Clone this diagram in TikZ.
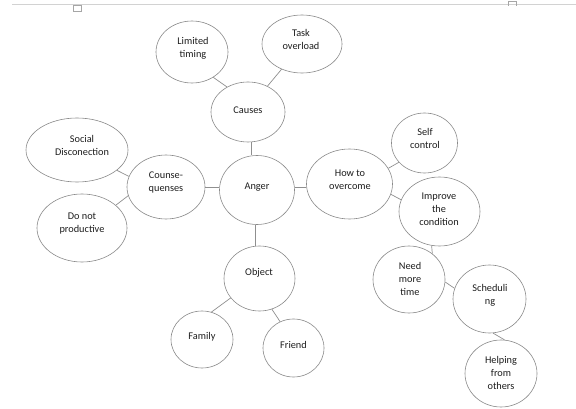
\documentclass[tikz,border=0pt]{standalone}
\usepackage{fontspec}
\setmainfont{Carlito}
\usetikzlibrary{shapes.geometric}
\definecolor{bubline}{HTML}{8A8A8A}
\definecolor{conline}{HTML}{8F8F8F}
\definecolor{txt}{HTML}{1E1E1E}
\definecolor{rule}{HTML}{D2D2D2}
\tikzset{
  bub/.style={ellipse, draw=bubline, line width=0.6pt, inner sep=0pt, fill=white},
  lbl/.style={align=center, text=txt, inner sep=0pt, font=\fontsize{10.3}{13}\selectfont},
  con/.style={draw=conline, line width=0.7pt},
}
\begin{document}
\begin{tikzpicture}[x=1pt,y=-1pt]
\useasboundingbox (0,0) rectangle (576,409);
% top rule and page marks
\coordinate (r1) at (12,4);
\coordinate (r2) at (576,4);
\draw[rule, line width=0.9pt] (r1) -- (r2);
\coordinate (m1) at (73,5);
\coordinate (m2) at (81,11);
\draw[gray!70, line width=0.6pt] (m1) rectangle (m2);
\coordinate (m3) at (508,1);
\coordinate (m4) at (516,6);
\draw[gray!70, line width=0.6pt] (m3 |- m4) -- (m3) -- (m4 |- m3) -- (m4);

% bubbles
\node[bub, minimum width=72pt, minimum height=62pt] (lt) at (192,52) {};
\node[bub, minimum width=80pt, minimum height=58pt] (task) at (302,44) {};
\node[bub, minimum width=74pt, minimum height=60pt] (causes) at (248,112) {};
\node[bub, minimum width=102pt, minimum height=64pt] (social) at (77,150) {};
\node[bub, minimum width=90pt, minimum height=68pt] (donot) at (82,228) {};
\node[bub, minimum width=78pt, minimum height=64pt] (counse) at (166,187) {};
\node[bub, minimum width=75pt, minimum height=69pt] (anger) at (257,190) {};
\node[bub, minimum width=86pt, minimum height=70pt] (how) at (349.5,184) {};
\node[bub, minimum width=66pt, minimum height=60pt] (self) at (424.5,143) {};
\node[bub, minimum width=81pt, minimum height=69pt] (improve) at (439.5,211.5) {};
\node[bub, minimum width=72pt, minimum height=67pt] (need) at (409,279.5) {};
\node[bub, minimum width=73pt, minimum height=68pt] (sched) at (489.5,299) {};
\node[bub, minimum width=72pt, minimum height=67pt] (help) at (501,373.5) {};
\node[bub, minimum width=71pt, minimum height=65pt] (object) at (259.5,278.5) {};
\node[bub, minimum width=62pt, minimum height=57pt] (family) at (202,339.5) {};
\node[bub, minimum width=61pt, minimum height=58pt] (friend) at (293.5,348) {};

% labels
\node[lbl] (lt-t) at (193,48) {Limited\\timing};
\node[lbl] (task-t) at (301,39) {Task\\overload};
\node[lbl] (causes-t) at (248,110) {Causes};
\node[lbl] (social-t) at (82,145) {Social\\Disconection};
\node[lbl] (donot-t) at (82,224) {Do not\\productive};
\node[lbl] (counse-t) at (166,182.5) {Counse-\\quenses};
\node[lbl] (anger-t) at (257,187) {Anger};
\node[lbl] (how-t) at (350,180) {How to\\overcome};
\node[lbl] (self-t) at (425,138.5) {Self\\control};
\node[lbl] (improve-t) at (439,209) {Improve\\the\\condition};
\node[lbl] (need-t) at (410,279) {Need\\more\\time};
\node[lbl] (sched-t) at (490,295) {Scheduli\\ng};
\node[lbl] (help-t) at (501,372.5) {Helping\\from\\others};
\node[lbl] (object-t) at (259,273) {Object};
\node[lbl] (family-t) at (202,337) {Family};
\node[lbl] (friend-t) at (293.5,345) {Friend};

% connectors
\draw[con] (lt.310) -- (causes.130);
\draw[con] (task.231.6) -- (causes.53.8);
\draw[con] ([xshift=3pt]causes.south) -- ([xshift=3pt]causes.south |- anger.north);
\draw[con] (social.333) -- (counse.164);
\draw[con] (donot.34) -- (counse.193);
\draw[con] (counse.east) -- (counse.east -| anger.west);
\draw[con] ([yshift=3pt]anger.east) -- ([yshift=3pt]anger.east -| how.west);
\draw[con] (how.22.6) -- (self.217);
\draw[con] (how.346) -- (improve.163.8);
\draw[con] (improve.257.5) -- (need.48);
\draw[con] (need.356) -- (sched.163.4);
\draw[con] (sched.276) -- (help.84.6);
\draw[con] ([xshift=-2pt]anger.south) -- ([xshift=-2pt]anger.south |- object.north);
\draw[con] (object.214.8) -- (family.71);
\draw[con] (object.292.6) -- (friend.117.4);
\end{tikzpicture}
\end{document}
